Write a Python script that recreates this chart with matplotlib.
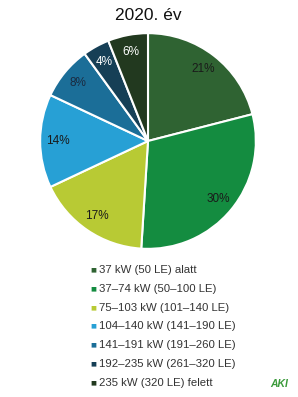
import matplotlib
matplotlib.use("Agg")
import matplotlib.pyplot as plt

plt.rcParams['font.family'] = ['Liberation Sans', 'DejaVu Sans']

title = "2020. év"
categories = ["37 kW (50 LE) alatt", "37–74 kW (50–100 LE)", "75–103 kW (101–140 LE)",
              "104–140 kW (141–190 LE)", "141–191 kW (191–260 LE)",
              "192–235 kW (261–320 LE)", "235 kW (320 LE) felett"]
values = [21, 30, 17, 14, 8, 4, 6]
colors = ["#2f6332", "#148c40", "#b8ca34", "#27a0d5", "#1b6e98", "#163f56", "#22391f"]
label_colors = ["#1a1a1a", "#1a1a1a", "#1a1a1a", "#1a1a1a", "#1a2a40", "white", "white"]

W, H = 298, 397
fig = plt.figure(figsize=(W / 100, H / 100), dpi=100)
fig.patch.set_facecolor("white")

cx, cy, r = 148, 141, 110
ax = fig.add_axes([(cx - r) / W, (H - cy - r) / H, 2 * r / W, 2 * r / H])
wedges, texts, autotexts = ax.pie(values, colors=colors, startangle=90, counterclock=False,
                                  autopct=lambda p: f"{p:.0f}%", pctdistance=0.84,
                                  wedgeprops=dict(edgecolor="white", linewidth=1.5),
                                  textprops=dict(fontsize=8.5))
for t, c in zip(autotexts, label_colors):
    t.set_color(c)
ax.set_aspect("equal")
ax.set_xlim(-1.02, 1.02)
ax.set_ylim(-1.02, 1.02)

fig.text(cx / W, 1 - 15 / H, title, ha="center", va="center", fontsize=12.5, color="#111111")

y0, dy = 270, 18.8
for i, (lab, col) in enumerate(zip(categories, colors)):
    y = 1 - (y0 + i * dy) / H
    fig.text(90 / W, y, "■", ha="left", va="center", fontsize=4.5, color=col,
             family=['DejaVu Sans'])
    fig.text(99 / W, y, lab, ha="left", va="center", fontsize=8.2, color="#333333")

fig.text(279 / W, 1 - 384 / H, "AKI", ha="center", va="center", fontsize=7.5,
         color="#3a9a3a", fontweight="bold", style="italic")

fig.savefig("out.png", dpi=100)
